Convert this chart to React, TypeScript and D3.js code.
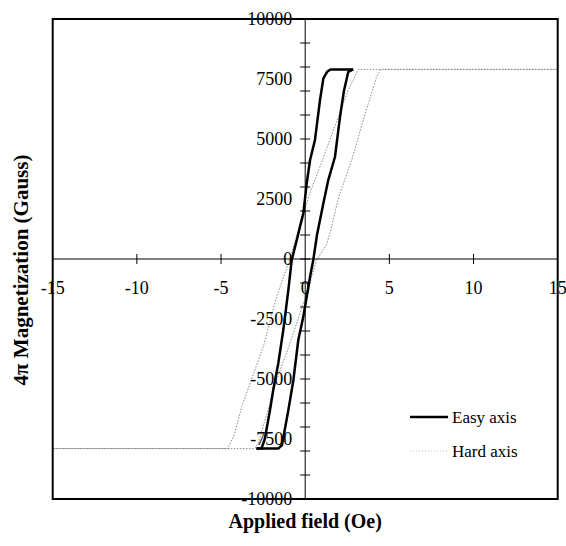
import * as d3 from "d3";

// easy axis loop: descending branch then ascending branch (field Oe, 4piM Gauss)
const easyDown: [number, number][] = [
  [2.85, 7900], [1.5, 7900], [1.3, 7800], [1.08, 7530], [0.88, 6625], [0.58, 4960],
  [0.29, 4125], [0.09, 3150], [-0.11, 1900], [-0.31, 1350], [-0.5, 790], [-0.8, -40],
  [-1.0, -1290], [-1.3, -2960], [-1.6, -4350], [-1.9, -5460], [-2.09, -6290],
  [-2.4, -7500], [-2.6, -7900], [-2.9, -7900],
];
const easyUp: [number, number][] = [
  [-2.9, -7900], [-1.6, -7900], [-1.38, -7750], [-1.0, -6290], [-0.7, -5040],
  [-0.41, -3375], [-0.11, -2400], [0.09, -1570], [0.3, -700], [0.48, -40], [0.7, 1000],
  [1.08, 2320], [1.37, 3290], [1.77, 4260], [2.07, 5930], [2.3, 7000], [2.56, 7800],
  [2.85, 7900],
];

// hard axis loop, runs out to the edge of the field range
const hardUp: [number, number][] = [
  [-15, -7900], [-4.6, -7900], [-4.2, -7300], [-3.77, -6150], [-2.49, -3650],
  [-1.7, -1570], [-1.0, -180], [-0.4, 1200], [0.2, 2600], [0.88, 3850], [1.97, 5930],
  [2.56, 7040], [3.16, 7900], [15, 7900],
];
const hardDown: [number, number][] = [
  [15, 7900], [4.5, 7900], [4.24, 7600], [3.5, 5900], [2.76, 4125], [2.0, 2600],
  [1.47, 1070], [1.27, 600], [0.68, -40], [0.2, -1200], [-0.3, -2250], [-1.0, -3700],
  [-1.7, -5040], [-2.3, -6500], [-2.8, -7700], [-3.0, -7900], [-15, -7900],
];

const xTickValues = [-15, -10, -5, 0, 5, 10, 15];
const yLabelValues = [10000, 7500, 5000, 2500, 0, -2500, -5000, -7500, -10000];
const yTickValues = d3.range(-10000, 10001, 1000);

const W = 566, H = 546;
const left = 52.7, right = 557.7, top = 19, bottom = 499;

export default function App() {
  const x = d3.scaleLinear().domain([-15, 15]).range([left, right]);
  const y = d3.scaleLinear().domain([-10000, 10000]).range([bottom, top]);
  const line = d3.line<[number, number]>().x((d) => x(d[0])).y((d) => y(d[1]));

  const x0 = x(0), y0 = y(0);
  const serif = "'Liberation Serif', 'Times New Roman', serif";

  return (
    <svg width={W} height={H} style={{ position: "absolute", left: 0, top: 0, background: "#fff" }}
      fontFamily={serif}>
      {/* hard axis (faint dotted grey) */}
      <g fill="none" stroke="#8a8a8a" strokeWidth={1} strokeDasharray="1.5,1.5">
        <path d={line(hardUp) ?? ""} />
        <path d={line(hardDown) ?? ""} />
      </g>

      {/* axes through origin */}
      <line x1={left} x2={right} y1={y0} y2={y0} stroke="#000" strokeWidth={1} />
      <line x1={x0} x2={x0} y1={top} y2={bottom} stroke="#000" strokeWidth={1} />
      {xTickValues.filter((v) => v !== 0 && Math.abs(v) !== 15).map((v) => (
        <line key={v} x1={x(v)} x2={x(v)} y1={y0 - 5} y2={y0 + 5} stroke="#000" />
      ))}
      {yTickValues.map((v) => (
        <line key={v} x1={x0 - 5} x2={x0 + 5} y1={y(v)} y2={y(v)} stroke="#000" />
      ))}

      {/* easy axis */}
      <g fill="none" stroke="#000" strokeWidth={2.5} strokeLinejoin="round">
        <path d={line(easyDown) ?? ""} />
        <path d={line(easyUp) ?? ""} />
      </g>

      {/* frame */}
      <rect x={left} y={top} width={right - left} height={bottom - top} fill="none" stroke="#000" strokeWidth={2} />

      {/* tick labels */}
      {xTickValues.map((v) => (
        <text key={v} x={x(v)} y={y0 + 35} textAnchor="middle" fontSize={18}>
          {v}
        </text>
      ))}
      {yLabelValues.map((v) => (
        <text key={v} x={x0 - 13} y={y(v)} dy="0.35em" textAnchor="end" fontSize={18}>
          {v}
        </text>
      ))}

      {/* axis titles */}
      <text x={x0} y={528} textAnchor="middle" fontSize={20} fontWeight="bold">
        Applied field (Oe)
      </text>
      <text transform={`translate(28, 270) rotate(-90)`} textAnchor="middle" fontSize={21} fontWeight="bold">
        4π Magnetization (Gauss)
      </text>

      {/* legend */}
      <line x1={410} x2={448} y1={417} y2={417} stroke="#000" strokeWidth={2.5} />
      <text x={452} y={417} dy="0.35em" fontSize={17}>Easy axis</text>
      <line x1={410} x2={448} y1={451} y2={451} stroke="#bbb" strokeWidth={1} strokeDasharray="1,2" />
      <text x={452} y={451} dy="0.35em" fontSize={17}>Hard axis</text>
    </svg>
  );
}
